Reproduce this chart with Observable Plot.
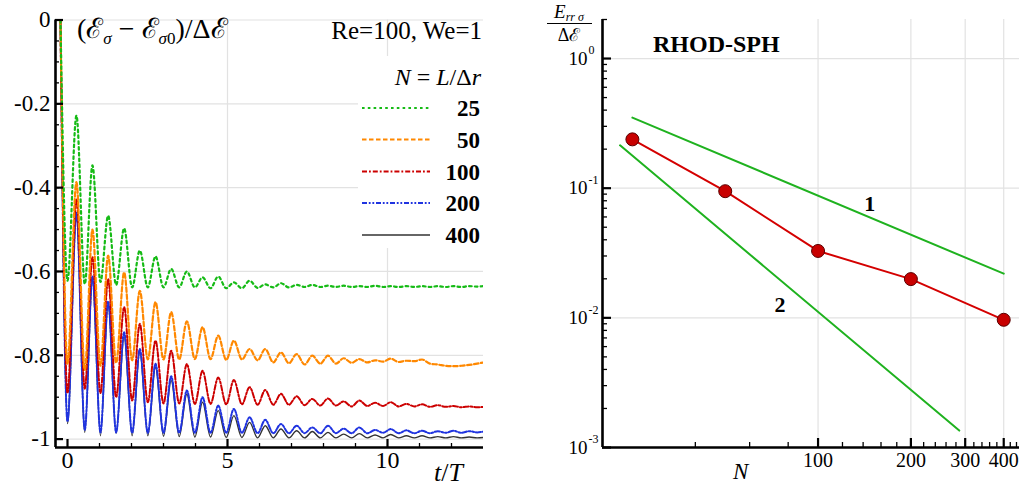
<!DOCTYPE html>
<html><head><meta charset="utf-8">
<script src="https://cdn.jsdelivr.net/npm/d3@7"></script>
<script src="https://cdn.jsdelivr.net/npm/@observablehq/plot@0.6"></script>
<style>
html,body{margin:0;padding:0;background:#fff;}
#wrap{position:relative;width:1023px;height:486px;overflow:hidden;font-family:"Liberation Serif","DejaVu Serif",serif;color:#000;}
.abs{position:absolute;white-space:nowrap;line-height:1;}
.abs sub{font-size:17px;vertical-align:-6px;line-height:0;}
#wrap svg text{font-family:"Liberation Serif","DejaVu Serif",serif !important;}
</style></head><body><div id="wrap"></div>
<script>
// ---------- Left panel: energy history (extrema) ----------
const tExt = [-0.22, 0.0, 0.28, 0.54, 0.78, 1.03, 1.27, 1.52, 1.77, 2.02, 2.26, 2.51, 2.75, 3.0, 3.24, 3.49, 3.73, 3.98, 4.22, 4.47, 4.71, 4.96, 5.2, 5.45, 5.69, 5.94, 6.18, 6.43, 6.67, 6.92, 7.16, 7.41, 7.65, 7.9, 8.14, 8.39, 8.63, 8.88, 9.12, 9.37, 9.61, 9.86, 10.1, 10.35, 10.59, 10.84, 11.08, 11.33, 11.57, 11.82, 12.06, 12.31, 12.55, 12.8, 13.0];
const vN25 = [0, -0.622, -0.228, -0.63, -0.347, -0.625, -0.467, -0.632, -0.497, -0.638, -0.55, -0.638, -0.564, -0.638, -0.594, -0.638, -0.6, -0.638, -0.614, -0.64, -0.612, -0.64, -0.626, -0.64, -0.622, -0.639, -0.631, -0.638, -0.628, -0.638, -0.632, -0.637, -0.632, -0.637, -0.634, -0.637, -0.634, -0.637, -0.635, -0.637, -0.634, -0.637, -0.635, -0.637, -0.635, -0.637, -0.635, -0.637, -0.635, -0.637, -0.635, -0.637, -0.635, -0.636, -0.635];
const vN50 = [0, -0.82, -0.387, -0.835, -0.5, -0.825, -0.562, -0.818, -0.602, -0.812, -0.646, -0.81, -0.673, -0.81, -0.697, -0.81, -0.719, -0.809, -0.733, -0.809, -0.753, -0.811, -0.765, -0.81, -0.785, -0.812, -0.785, -0.817, -0.793, -0.819, -0.797, -0.822, -0.801, -0.82, -0.801, -0.82, -0.807, -0.818, -0.809, -0.817, -0.812, -0.815, -0.808, -0.816, -0.813, -0.814, -0.81, -0.82, -0.822, -0.825, -0.826, -0.825, -0.823, -0.82, -0.817];
const vN100 = [0, -0.89, -0.427, -0.88, -0.566, -0.89, -0.618, -0.9, -0.685, -0.908, -0.725, -0.912, -0.765, -0.915, -0.789, -0.915, -0.821, -0.916, -0.837, -0.916, -0.853, -0.917, -0.859, -0.917, -0.876, -0.918, -0.883, -0.918, -0.892, -0.918, -0.898, -0.919, -0.904, -0.92, -0.903, -0.92, -0.91, -0.922, -0.908, -0.921, -0.913, -0.921, -0.912, -0.922, -0.916, -0.922, -0.917, -0.923, -0.919, -0.923, -0.921, -0.924, -0.922, -0.924, -0.923];
const vN200 = [0, -0.958, -0.46, -0.978, -0.612, -0.984, -0.672, -0.984, -0.745, -0.985, -0.785, -0.985, -0.82, -0.985, -0.85, -0.985, -0.884, -0.985, -0.9, -0.985, -0.92, -0.985, -0.928, -0.985, -0.948, -0.986, -0.954, -0.986, -0.964, -0.986, -0.968, -0.986, -0.972, -0.986, -0.968, -0.986, -0.975, -0.986, -0.972, -0.986, -0.978, -0.985, -0.976, -0.986, -0.979, -0.986, -0.98, -0.986, -0.981, -0.985, -0.98, -0.985, -0.981, -0.984, -0.982];
const vN400 = [0, -0.963, -0.467, -0.984, -0.622, -0.992, -0.681, -0.986, -0.757, -0.992, -0.793, -0.992, -0.829, -0.993, -0.86, -0.994, -0.893, -0.995, -0.912, -0.995, -0.932, -0.996, -0.944, -0.996, -0.96, -0.997, -0.968, -0.997, -0.976, -0.997, -0.98, -0.997, -0.982, -0.997, -0.984, -0.997, -0.988, -0.997, -0.987, -0.997, -0.99, -0.997, -0.989, -0.997, -0.992, -0.997, -0.992, -0.997, -0.994, -0.997, -0.994, -0.997, -0.995, -0.997, -0.996];

const seriesN = ["25", "50", "100", "200", "400"];
const seriesVals = [vN25, vN50, vN100, vN200, vN400];
const seriesColor = ["#16bb16", "#ff8800", "#cc0000", "#1f33e0", "#333333"];
const seriesDash = ["2.6,3.2", "4.5,2.5", "5,2,1.8,2", "5,1.8,1.8,1.8,1.8,1.8", null];
const seriesWidth = [2.2, 2.2, 2, 2, 1.4];

const yTicksL = [-1, -0.8, -0.6, -0.4, -0.2, 0];
const yMinorL = [-1, -0.95, -0.9, -0.85, -0.8, -0.75, -0.7, -0.65, -0.6, -0.55, -0.5, -0.45, -0.4, -0.35, -0.3, -0.25, -0.2, -0.15, -0.1, -0.05, 0];
const xTicksL = [0, 5, 10];
const xMinorL = [1, 2, 3, 4, 6, 7, 8, 9, 11, 12];

// ---------- Right panel: convergence ----------
const convN = [25, 50, 100, 200, 400];
const convErr = [0.238, 0.0948, 0.0328, 0.0199, 0.00966];
const slope1N = [25, 400];
const slope1E = [0.35, 0.0219];
const slope2N = [22.8, 287];
const slope2E = [0.214, 0.00135];
const slopeLabelText = ["1", "2"];
const slopeLabelN = [147, 75.3];
const slopeLabelE = [0.0762, 0.01247];

const yTicksR = [0.001, 0.01, 0.1, 1];
const yTickExpR = ["-3", "-2", "-1", "0"];
const yMinorR = [0.002, 0.003, 0.004, 0.005, 0.006, 0.007, 0.008, 0.009, 0.02, 0.03, 0.04, 0.05, 0.06, 0.07, 0.08, 0.09, 0.2, 0.3, 0.4, 0.5, 0.6, 0.7, 0.8, 0.9, 2];
const xTicksR = [100, 200, 300, 400];
const xMinorR = [40, 60, 80, 120, 140, 160, 180, 220, 240, 260, 280, 320, 340, 360, 380, 420, 440];

const wrap = document.getElementById("wrap");
const grid = "#e2e2e2";
const font = "Liberation Serif";

// ---- left plot ----
const lineMarks = [];
for (let s = seriesN.length - 1; s >= 0; s--) {
  const rows = tExt.map((t, i) => ({t, v: seriesVals[s][i]}));
  lineMarks.push(Plot.line(rows, {x: "t", y: "v", curve: "monotone-x", stroke: seriesColor[s],
    strokeWidth: seriesWidth[s], strokeDasharray: seriesDash[s], clip: true}));
}
const left = Plot.plot({
  width: 500, height: 486,
  marginLeft: 55, marginRight: 17, marginTop: 19.5, marginBottom: 39,
  x: {domain: [-0.375, 13], axis: null},
  y: {domain: [-1.02, 0], axis: null},
  style: {fontFamily: font, background: "transparent", color: "#000", overflow: "visible"},
  marks: [
    Plot.ruleY(yTicksL, {stroke: grid, strokeWidth: 1.2}),
    Plot.ruleX([5, 10], {stroke: grid, strokeWidth: 1.2}),
    ...lineMarks,
    Plot.ruleX([-0.375], {stroke: "#000", strokeWidth: 2.6}),
    Plot.ruleY([-1.02], {stroke: "#000", strokeWidth: 2.6}),
    Plot.axisY({ticks: yTicksL, tickSize: 8, dx: 8, tickFormat: () => "", strokeWidth: 2.2, label: null}),
    Plot.axisY({ticks: yMinorL, tickSize: 4, dx: 4, tickFormat: () => "", strokeWidth: 1.3, label: null}),
    Plot.axisY({ticks: yTicksL, tickSize: 0, tickPadding: 5, tickFormat: d => String(d), fontSize: 23, fontFamily: font, label: null}),
    Plot.axisX({ticks: xTicksL, tickSize: 8, dy: -8, tickFormat: () => "", strokeWidth: 2.2, label: null}),
    Plot.axisX({ticks: xMinorL, tickSize: 4, dy: -4, tickFormat: () => "", strokeWidth: 1.3, label: null}),
    Plot.axisX({ticks: xTicksL, tickSize: 0, tickPadding: 3, tickFormat: d => String(d), fontSize: 24, fontFamily: font, label: null})
  ]
});
left.style.position = "absolute"; left.style.left = "0px"; left.style.top = "0px";
wrap.appendChild(left);

// ---- right plot ----
const conv = convN.map((n, i) => ({n, e: convErr[i]}));
const s1 = slope1N.map((n, i) => ({n, e: slope1E[i]}));
const s2 = slope2N.map((n, i) => ({n, e: slope2E[i]}));
const sl = slopeLabelText.map((t, i) => ({t, n: slopeLabelN[i], e: slopeLabelE[i]}));
const expRows = yTicksR.map((v, i) => ({v, t: yTickExpR[i]}));
const right = Plot.plot({
  width: 503, height: 486,
  marginLeft: 82, marginRight: 4, marginTop: 19, marginBottom: 39,
  x: {type: "log", domain: [20, 450], axis: null},
  y: {type: "log", domain: [0.001, 2], axis: null},
  style: {fontFamily: font, background: "transparent", color: "#000", overflow: "visible"},
  marks: [
    Plot.ruleY([0.01, 0.1, 1], {stroke: grid, strokeWidth: 1.2}),
    Plot.ruleX(xTicksR, {stroke: grid, strokeWidth: 1.2}),
    Plot.line(s1, {x: "n", y: "e", stroke: "#1fb21f", strokeWidth: 2}),
    Plot.line(s2, {x: "n", y: "e", stroke: "#1fb21f", strokeWidth: 2}),
    Plot.line(conv, {x: "n", y: "e", stroke: "#d40000", strokeWidth: 2}),
    Plot.dot(conv, {x: "n", y: "e", r: 6.5, fill: "#c80000", stroke: "#5a0000", strokeWidth: 1}),
    Plot.text(sl, {x: "n", y: "e", text: "t", fontSize: 22, fontWeight: "bold", fontFamily: font}),
    Plot.ruleX([20], {stroke: "#000", strokeWidth: 2.6}),
    Plot.ruleY([0.001], {stroke: "#000", strokeWidth: 2.6}),
    Plot.axisY({ticks: yTicksR, tickSize: 9, dx: 9, tickFormat: () => "", strokeWidth: 2.2, label: null}),
    Plot.axisY({ticks: yMinorR, tickSize: 5, dx: 5, tickFormat: () => "", strokeWidth: 1.3, label: null}),
    Plot.axisY({ticks: yTicksR, tickSize: 0, tickPadding: 15, tickFormat: () => "10", fontSize: 19, fontFamily: font, label: null}),
    Plot.text(expRows, {y: "v", text: "t", frameAnchor: "left", dx: -14, dy: -8, textAnchor: "start", fontSize: 12, fontFamily: font}),
    Plot.axisX({ticks: xTicksR, tickSize: 9, dy: -9, tickFormat: () => "", strokeWidth: 2.2, label: null}),
    Plot.axisX({ticks: xMinorR, tickSize: 5, dy: -5, tickFormat: () => "", strokeWidth: 1.3, label: null}),
    Plot.axisX({ticks: xTicksR, tickSize: 0, tickPadding: 5, tickFormat: d => String(d), fontSize: 20, fontFamily: font, label: null})
  ]
});
right.style.position = "absolute"; right.style.left = "520px"; right.style.top = "0px";
wrap.appendChild(right);

// ---- legend (left panel) ----
const lg = d3.select(wrap).append("svg").attr("class", "abs")
  .style("left", "358px").style("top", "56px").attr("width", 130).attr("height", 192);
lg.append("rect").attr("width", 130).attr("height", 192).attr("fill", "#fff");
const legY = [52, 83.5, 115.5, 147, 179];
seriesN.forEach((n, i) => {
  lg.append("line").attr("x1", 4).attr("x2", 72).attr("y1", legY[i]).attr("y2", legY[i])
    .attr("stroke", seriesColor[i]).attr("stroke-width", seriesWidth[i])
    .attr("stroke-dasharray", seriesDash[i]);
  lg.append("text").attr("x", 122).attr("y", legY[i] + 8).attr("text-anchor", "end")
    .attr("font-family", font).attr("font-weight", "bold").attr("font-size", 23).text(n);
});
d3.selectAll("#wrap svg text").attr("font-family", font);

// ---- text annotations ----
function addHTML(html, css) {
  const d = document.createElement("div");
  d.className = "abs"; d.innerHTML = html; d.style.cssText += css; wrap.appendChild(d);
}
addHTML('(ℰ<sub><i>σ</i></sub> − ℰ<sub><i>σ</i>0</sub>)/Δℰ', 'left:77px;top:15px;font-size:28px;');
addHTML('Re=100, We=1', 'right:541px;top:18px;font-size:25px;');
addHTML('<i>N</i> = <i>L</i>/Δ<i>r</i>', 'right:542px;top:65px;font-size:24px;');
addHTML('<i>t</i>/<i>T</i>', 'left:434px;top:460px;font-size:26px;');
addHTML('<i>N</i>', 'left:733px;top:460px;font-size:23px;');
addHTML('RHOD-SPH', 'left:653px;top:32px;font-size:24px;font-weight:bold;');
addHTML('<i>E</i><span style="font-size:12px;font-style:italic;position:relative;top:3px;">rr σ</span>', 'left:543px;top:2px;width:52px;height:19px;text-align:center;font-size:19px;line-height:19px;');
addHTML('', 'left:547px;top:23px;width:45px;height:0;border-top:1.3px solid #000;');
addHTML('Δℰ', 'left:544px;top:26px;width:50px;height:18px;text-align:center;font-size:18px;line-height:18px;');
</script></body></html>
